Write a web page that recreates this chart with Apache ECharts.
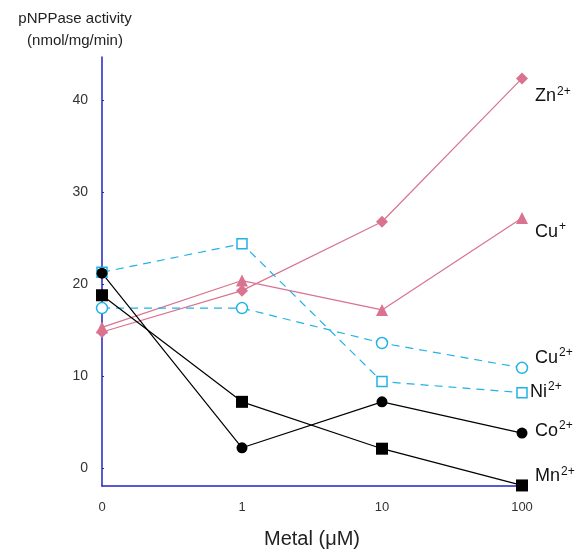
<!DOCTYPE html>
<html>
<head>
<meta charset="utf-8">
<script src="https://cdn.jsdelivr.net/npm/echarts@6/dist/echarts.min.js"></script>
<style>
  html, body { margin: 0; padding: 0; background: #fff; }
  #main { width: 579px; height: 552px; }
</style>
</head>
<body>
<div id="main"></div>
<script>
// metal concentrations (uM)
var concentrations = ["0", "1", "10", "100"];
var yTicks = [0, 10, 20, 30, 40];

// pNPPase activity (nmol/mg/min)
var zn2 = [14.8, 19.3, 26.8, 42.4];
var cu1 = [15.3, 20.4, 17.2, 27.2];
var cu2 = [17.4, 17.4, 13.6, 10.9];
var ni2 = [21.3, 24.4, 9.4, 8.2];
var co2 = [21.2, 2.2, 7.2, 3.8];
var mn2 = [18.8, 7.2, 2.1, -1.9];

var pink = "#d9738f";
var cyan = "#22b2e6";
var axisBlue = "#2323c2";

var chart = echarts.init(document.getElementById("main"));

// label for the end of each line, ion name + superscript charge
function ionLabel(name, charge, dx, dy) {
  return {
    show: true,
    distance: 0,
    offset: [dx, dy],
    formatter: "{n|" + name + "}{s|" + charge + "}",
    rich: {
      n: { fontSize: 18, color: "#111", fontFamily: "Liberation Sans, Arial", lineHeight: 22 },
      s: { fontSize: 12, color: "#111", fontFamily: "Liberation Sans, Arial", verticalAlign: "top", lineHeight: 22, padding: [0, 0, 6, 1] },
    },
  };
}

function makeSeries(name, data, color, symbol, size, dashed, label, fillEmpty) {
  return {
    name: name,
    type: "line",
    data: data,
    symbol: symbol,
    symbolSize: size,
    showAllSymbol: true,
    animation: false,
    lineStyle: {
      color: color,
      width: 1.2,
      type: dashed ? [8, 6] : "solid",
    },
    itemStyle: {
      color: fillEmpty ? "#fff" : color,
      borderColor: color,
      borderWidth: fillEmpty ? 1.5 : 0,
    },
    endLabel: label,
  };
}

var option = {
  backgroundColor: "#fff",
  animation: false,
  grid: {
    left: 102,
    right: 57,
    top: 57,
    bottom: 66,
    containLabel: false,
    outerBoundsMode: "none",
  },
  graphic: [
    {
      type: "text",
      x: 75,
      y: 8,
      style: {
        text: "pNPPase activity\n(nmol/mg/min)",
        textAlign: "center",
        fontSize: 15,
        lineHeight: 22,
        fill: "#222",
        fontFamily: "Liberation Sans, Arial",
      },
    },
  ],
  xAxis: {
    type: "category",
    data: concentrations,
    boundaryGap: false,
    name: "Metal (\u03bcM)",
    nameLocation: "middle",
    nameGap: 43,
    nameTextStyle: {
      fontSize: 20,
      color: "#222",
      fontFamily: "Liberation Sans, Arial",
    },
    axisLine: { onZero: false, lineStyle: { color: axisBlue, width: 1.5 } },
    axisTick: { show: false },
    axisLabel: {
      margin: 15,
      fontSize: 13,
      color: "#333",
      fontFamily: "Liberation Sans, Arial",
    },
    splitLine: { show: false },
  },
  yAxis: {
    type: "value",
    min: -1.96,
    max: 44.73,
    axisLine: { show: true, onZero: false, lineStyle: { color: axisBlue, width: 1.5 } },
    axisTick: {
      show: true,
      inside: true,
      length: 2,
      customValues: yTicks,
      lineStyle: { color: axisBlue },
    },
    axisLabel: {
      customValues: yTicks,
      margin: 14,
      fontSize: 14,
      color: "#333",
      fontFamily: "Liberation Sans, Arial",
    },
    splitLine: { show: false },
  },
  series: [
    makeSeries("Zn2+", zn2, pink, "diamond", 12, false, ionLabel("Zn", "2+", 13, 18)),
    makeSeries("Cu+", cu1, pink, "triangle", 12, false, ionLabel("Cu", "+", 13, 14)),
    makeSeries("Cu2+", cu2, cyan, "circle", 11, true, ionLabel("Cu", "2+", 13, -10), true),
    makeSeries("Ni2+", ni2, cyan, "rect", 10, true, ionLabel("Ni", "2+", 8, -1), true),
    makeSeries("Co2+", co2, "#000", "circle", 11, false, ionLabel("Co", "2+", 13, -2)),
    makeSeries("Mn2+", mn2, "#000", "rect", 12, false, ionLabel("Mn", "2+", 13, -9)),
  ],
};

chart.setOption(option);
</script>
</body>
</html>
